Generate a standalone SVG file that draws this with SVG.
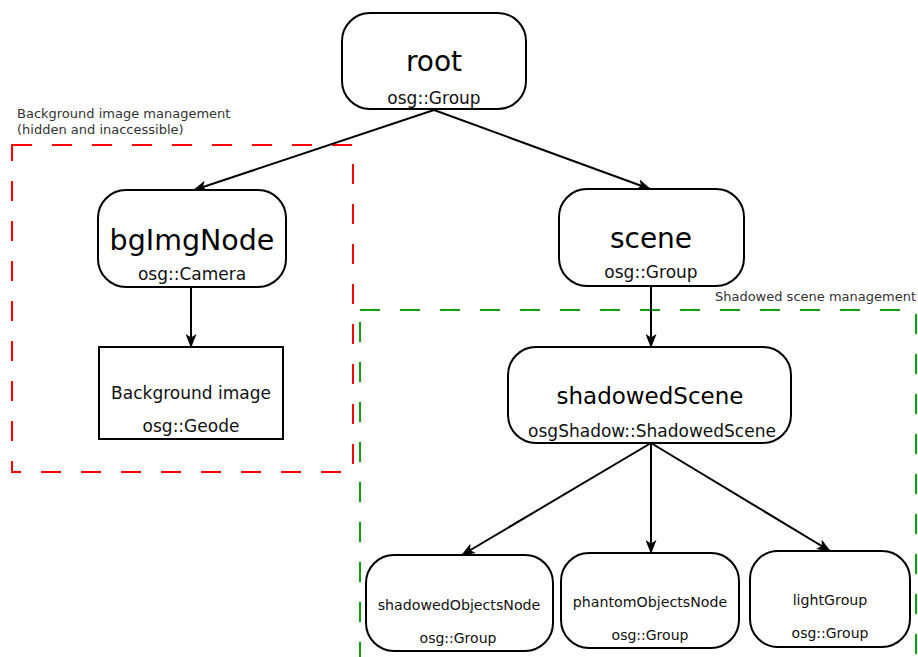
<svg xmlns="http://www.w3.org/2000/svg" width="918" height="657" viewBox="0 0 918 657">
  <style>
    .node { fill: #ffffff; stroke: #000000; stroke-width: 2; }
    .title { font-family: "DejaVu Sans", "Liberation Sans", sans-serif; fill: #000000; text-anchor: middle; }
    .sub { font-family: "DejaVu Sans", "Liberation Sans", sans-serif; font-size: 17px; fill: #111111; text-anchor: middle; }
    .leaf { font-family: "DejaVu Sans", "Liberation Sans", sans-serif; font-size: 14.2px; fill: #111111; text-anchor: middle; }
    .leafsub { font-family: "DejaVu Sans", "Liberation Sans", sans-serif; font-size: 14px; fill: #111111; text-anchor: middle; }
    .note { font-family: "DejaVu Sans", "Liberation Sans", sans-serif; font-size: 13px; fill: #333333; }
    .edge { stroke: #000000; stroke-width: 2; fill: none; marker-end: url(#arrow); }
    .region { fill: none; stroke-width: 2; stroke-dasharray: 20 20; }
  </style>
  <defs>
    <marker id="arrow" viewBox="0 0 14 11" refX="13" refY="5.5" markerWidth="14" markerHeight="11" markerUnits="userSpaceOnUse" orient="auto">
      <path d="M0,0 L14,5.5 L0,11 L3.5,5.5 Z" fill="#000000"/>
    </marker>
  </defs>
  <rect width="918" height="657" fill="#ffffff"/>

  <!-- dashed management regions -->
  <g id="regions">
    <rect class="region" x="12" y="145" width="341" height="327" stroke="#ff0000"/>
    <rect class="region" x="360" y="310" width="556" height="360" stroke="#13a013"/>
    <text class="note" x="17" y="118">Background image management</text>
    <text class="note" x="17" y="134">(hidden and inaccessible)</text>
    <text class="note" x="916" y="301" text-anchor="end">Shadowed scene management</text>
  </g>

  <g id="connectors">
    <line class="edge" x1="434" y1="110" x2="194" y2="190"/>
    <line class="edge" x1="434" y1="110" x2="650" y2="189"/>
    <line class="edge" x1="191" y1="287" x2="191" y2="347"/>
    <line class="edge" x1="651" y1="286" x2="651" y2="347"/>
    <line class="edge" x1="651" y1="443" x2="462" y2="555"/>
    <line class="edge" x1="651" y1="443" x2="651" y2="553"/>
    <line class="edge" x1="651" y1="443" x2="830" y2="551"/>
  </g>

  <g id="root">
    <rect class="node" x="342" y="13" width="184" height="96" rx="28" ry="28"/>
    <text class="title" x="434" y="71" font-size="28">root</text>
    <text class="sub" x="434" y="104">osg::Group</text>
  </g>

  <g id="bgImgNode">
    <rect class="node" x="98" y="190" width="188" height="97" rx="28" ry="28"/>
    <text class="title" x="192" y="250" font-size="28.5">bgImgNode</text>
    <text class="sub" x="192" y="280">osg::Camera</text>
  </g>

  <g id="scene">
    <rect class="node" x="559" y="189" width="185" height="97" rx="28" ry="28"/>
    <text class="title" x="651" y="248" font-size="28">scene</text>
    <text class="sub" x="651" y="278">osg::Group</text>
  </g>

  <g id="backgroundImage">
    <rect class="node" x="99" y="347" width="184" height="92"/>
    <text class="sub" x="191" y="399">Background image</text>
    <text class="sub" x="191" y="432">osg::Geode</text>
  </g>

  <g id="shadowedScene">
    <rect class="node" x="508" y="347" width="283" height="96" rx="28" ry="28"/>
    <text class="title" x="650" y="404" font-size="23">shadowedScene</text>
    <text class="sub" x="652" y="437">osgShadow::ShadowedScene</text>
  </g>

  <g id="shadowedObjectsNode">
    <rect class="node" x="366" y="555" width="187" height="96" rx="28" ry="28"/>
    <text class="leaf" x="459" y="610">shadowedObjectsNode</text>
    <text class="leafsub" x="458" y="643">osg::Group</text>
  </g>

  <g id="phantomObjectsNode">
    <rect class="node" x="561" y="553" width="178" height="95" rx="28" ry="28"/>
    <text class="leaf" x="650" y="607">phantomObjectsNode</text>
    <text class="leafsub" x="650" y="640">osg::Group</text>
  </g>

  <g id="lightGroup">
    <rect class="node" x="750" y="551" width="160" height="96" rx="28" ry="28"/>
    <text class="leaf" x="830" y="605">lightGroup</text>
    <text class="leafsub" x="830" y="638">osg::Group</text>
  </g>
</svg>
